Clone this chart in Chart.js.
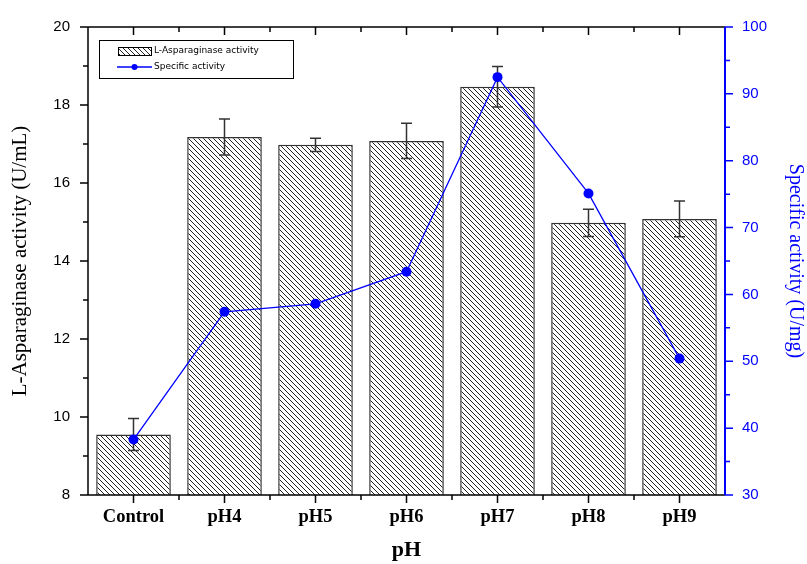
<!DOCTYPE html>
<html>
<head>
<meta charset="utf-8">
<script src="https://cdn.jsdelivr.net/npm/chart.js@4.4.0/dist/chart.umd.min.js"></script>
<style>
  html, body { margin: 0; padding: 0; background: #fff; }
  #wrap { width: 807px; height: 564px; }
</style>
</head>
<body>
<div id="wrap"><canvas id="phChart" width="807" height="564"></canvas></div>
<script>
// data
const categories = ['Control', 'pH4', 'pH5', 'pH6', 'pH7', 'pH8', 'pH9'];
const enzymeActivity = [9.55, 17.18, 16.98, 17.08, 18.47, 14.98, 15.08];   // U/mL
const enzymeError = [0.41, 0.46, 0.17, 0.45, 0.52, 0.35, 0.46];
const specificActivity = [38.3, 57.4, 58.6, 63.4, 92.5, 75.1, 50.4];       // U/mg
const leftTicks = [8, 10, 12, 14, 16, 18, 20];
const rightTicks = [30, 40, 50, 60, 70, 80, 90, 100];

const BLUE = '#0000ff';

function makeHatch() {
    const s = 5;
    const c = document.createElement('canvas');
    c.width = s;
    c.height = s;
    const g = c.getContext('2d');
    g.fillStyle = '#fff';
    g.fillRect(0, 0, s, s);
    g.strokeStyle = '#222';
    g.lineWidth = 1;
    for (const k of [-s, 0, s]) {
        g.beginPath();
        g.moveTo(k, 0);
        g.lineTo(k + s, s);
        g.stroke();
    }
    return document.getElementById('phChart').getContext('2d').createPattern(c, 'repeat');
}
const hatch = makeHatch();

// error bars, drawn right after the bars so the line sits on top
const errorBars = {
    id: 'errorBars',
    afterDatasetDraw(chart, args) {
        if (args.meta.type !== 'bar') return;
        const ctx = chart.ctx;
        const y = chart.scales.y;
        ctx.save();
        ctx.strokeStyle = '#333';
        ctx.lineWidth = 1.5;
        args.meta.data.forEach((bar, i) => {
            const v = enzymeActivity[i];
            const top = y.getPixelForValue(v + enzymeError[i]);
            const bot = y.getPixelForValue(v - enzymeError[i]);
            ctx.beginPath();
            ctx.moveTo(bar.x, top);
            ctx.lineTo(bar.x, bot);
            ctx.moveTo(bar.x - 5.5, top);
            ctx.lineTo(bar.x + 5.5, top);
            ctx.moveTo(bar.x - 5.5, bot);
            ctx.lineTo(bar.x + 5.5, bot);
            ctx.stroke();
        });
        ctx.restore();
    }
};

// frame lines, major/minor tick marks and the legend box
const frame = {
    id: 'frame',
    afterDraw(chart) {
        const ctx = chart.ctx;
        const a = chart.chartArea;
        const x = chart.scales.x;
        const y = chart.scales.y;
        const y1 = chart.scales.y1;
        const major = 8, minor = 5;
        ctx.save();
        ctx.lineWidth = 1.5;
        ctx.strokeStyle = '#000';
        ctx.beginPath();
        ctx.moveTo(a.left, a.bottom);
        ctx.lineTo(a.left, a.top);
        ctx.lineTo(a.right, a.top);
        ctx.moveTo(a.left, a.bottom);
        ctx.lineTo(a.right, a.bottom);
        // left ticks
        for (let v = 8; v <= 20; v++) {
            const p = y.getPixelForValue(v);
            ctx.moveTo(a.left, p);
            ctx.lineTo(a.left - (v % 2 === 0 ? major : minor), p);
        }
        // bottom/top ticks at centres and boundaries
        const step = x.getPixelForValue(1) - x.getPixelForValue(0);
        categories.forEach((c, i) => {
            const p = x.getPixelForValue(i);
            ctx.moveTo(p, a.bottom);
            ctx.lineTo(p, a.bottom + major);
            ctx.moveTo(p, a.top);
            ctx.lineTo(p, a.top + major);
            if (i > 0) {
                const b = p - step / 2;
                ctx.moveTo(b, a.bottom);
                ctx.lineTo(b, a.bottom + minor);
                ctx.moveTo(b, a.top);
                ctx.lineTo(b, a.top + minor);
            }
        });
        ctx.stroke();

        // right axis in blue
        ctx.strokeStyle = BLUE;
        ctx.lineWidth = 2;
        ctx.beginPath();
        ctx.moveTo(a.right, a.top);
        ctx.lineTo(a.right, a.bottom);
        ctx.stroke();
        ctx.lineWidth = 1.5;
        ctx.beginPath();
        for (let v = 30; v <= 100; v += 5) {
            const p = y1.getPixelForValue(v);
            ctx.moveTo(a.right, p);
            ctx.lineTo(a.right + (v % 10 === 0 ? major : minor), p);
        }
        ctx.stroke();

        // legend
        const lx = a.left + 11, ly = a.top + 13;
        ctx.strokeStyle = '#000';
        ctx.lineWidth = 1;
        ctx.strokeRect(lx + 0.5, ly + 0.5, 194, 38);
        ctx.fillStyle = hatch;
        ctx.fillRect(lx + 19, ly + 7, 33, 8);
        ctx.strokeRect(lx + 19.5, ly + 7.5, 33, 8);
        ctx.strokeStyle = BLUE;
        ctx.lineWidth = 1.3;
        ctx.beginPath();
        ctx.moveTo(lx + 18, ly + 27);
        ctx.lineTo(lx + 53, ly + 27);
        ctx.stroke();
        ctx.fillStyle = BLUE;
        ctx.beginPath();
        ctx.arc(lx + 35.5, ly + 27, 3, 0, Math.PI * 2);
        ctx.fill();
        ctx.fillStyle = '#000';
        ctx.font = '9px "DejaVu Sans"';
        ctx.textBaseline = 'middle';
        ctx.fillText('L-Asparaginase activity', lx + 55, ly + 11);
        ctx.fillText('Specific activity', lx + 55, ly + 27);
        ctx.restore();
    }
};

new Chart(document.getElementById('phChart'), {
    data: {
        labels: categories,
        datasets: [
            {
                type: 'line',
                label: 'Specific activity',
                data: specificActivity,
                yAxisID: 'y1',
                borderColor: BLUE,
                borderWidth: 1.3,
                pointRadius: 5,
                pointBackgroundColor: BLUE,
                pointBorderWidth: 0,
                order: 0
            },
            {
                type: 'bar',
                label: 'L-Asparaginase activity',
                data: enzymeActivity,
                yAxisID: 'y',
                backgroundColor: hatch,
                borderColor: '#333',
                borderWidth: 1.5,
                categoryPercentage: 1,
                barPercentage: 0.82,
                order: 1
            }
        ]
    },
    options: {
        responsive: false,
        animation: false,
        layout: { padding: { top: 22 } },
        plugins: {
            legend: { display: false },
            tooltip: { enabled: false }
        },
        scales: {
            x: {
                grid: { display: false, drawTicks: false },
                border: { display: false },
                ticks: {
                    color: '#000',
                    padding: 11,
                    font: { family: '"Liberation Serif"', weight: 'bold', size: 18.5 }
                },
                title: {
                    display: true,
                    text: 'pH',
                    color: '#000',
                    padding: { top: 0, bottom: 0 },
                    font: { family: '"Liberation Serif"', weight: 'bold', size: 22 }
                },
                afterFit(s) { s.height = 69; }
            },
            y: {
                position: 'left',
                min: 8,
                max: 20,
                grid: { display: false, drawTicks: false },
                border: { display: false },
                afterBuildTicks(s) { s.ticks = leftTicks.map(v => ({ value: v })); },
                ticks: {
                    color: '#000',
                    padding: 18,
                    font: { family: '"Liberation Sans"', size: 15 }
                },
                title: {
                    display: true,
                    text: 'L-Asparaginase activity (U/mL)',
                    color: '#000',
                    padding: { top: 8, bottom: 0 },
                    font: { family: '"Liberation Serif"', size: 21 }
                },
                afterFit(s) { s.width = 88; }
            },
            y1: {
                position: 'right',
                min: 30,
                max: 100,
                grid: { display: false, drawTicks: false },
                border: { display: false },
                afterBuildTicks(s) { s.ticks = rightTicks.map(v => ({ value: v })); },
                ticks: {
                    color: BLUE,
                    padding: 17,
                    font: { family: '"Liberation Sans"', size: 15 }
                },
                title: {
                    display: true,
                    text: 'Specific activity (U/mg)',
                    color: BLUE,
                    padding: { top: 0, bottom: 0 },
                    font: { family: '"Liberation Serif"', size: 20 }
                },
                afterFit(s) { s.width = 82; }
            }
        }
    },
    plugins: [errorBars, frame]
});
</script>
</body>
</html>
